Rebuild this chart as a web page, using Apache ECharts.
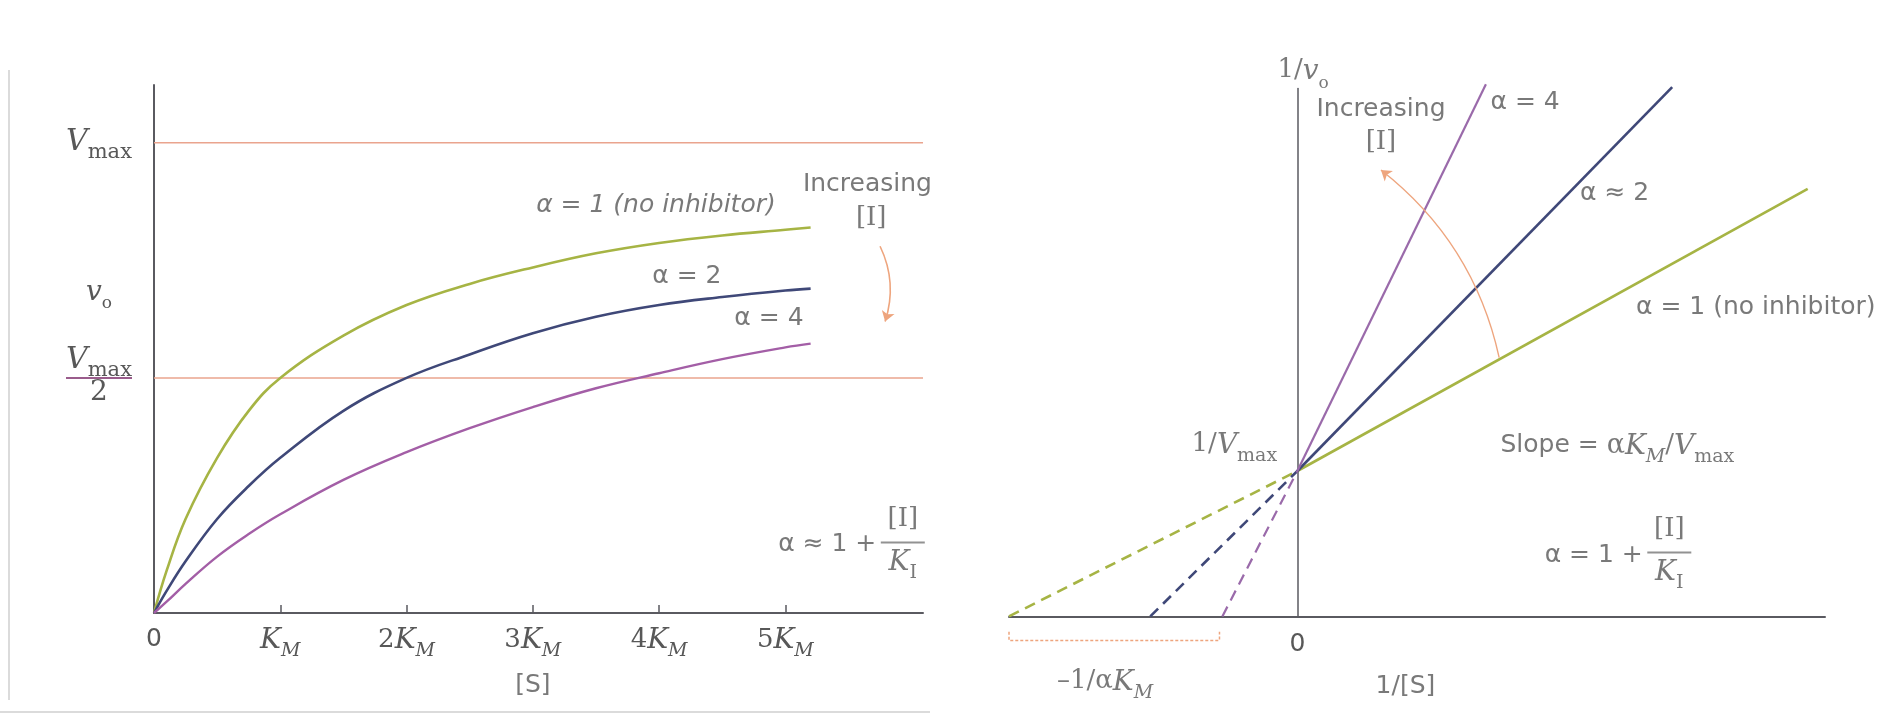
<!DOCTYPE html>
<html><head><meta charset="utf-8">
<script src="https://cdn.jsdelivr.net/npm/echarts@6/dist/echarts.min.js"></script>
<style>html,body{margin:0;padding:0;background:#fff}#c{width:1884px;height:722px}</style>
</head><body><div id="c"></div><script>
// ---------- data ----------
// Left: Michaelis-Menten plot, [S] in units of K_M, v0 in units of Vmax
const S_KM     = [0, 0.1, 0.25, 0.5, 0.75, 1, 1.5, 2, 2.5, 3, 3.5, 4, 4.5, 5, 5.2];
const v_alpha1 = [0, 0.09, 0.2, 0.33, 0.43, 0.5, 0.59, 0.655, 0.70, 0.735, 0.765, 0.787, 0.803, 0.815, 0.82];
const v_alpha2 = [0, 0.047, 0.11, 0.2, 0.27, 0.33, 0.43, 0.5, 0.55, 0.595, 0.63, 0.655, 0.672, 0.686, 0.69];
const v_alpha4 = [0, 0.024, 0.062, 0.12, 0.168, 0.21, 0.283, 0.342, 0.393, 0.438, 0.478, 0.51, 0.54, 0.565, 0.573];
const refLevels = [1, 0.5];          // Vmax and Vmax/2
const xTicksKM = [1, 2, 3, 4, 5];
const xLabelsKM = [0, 1, 2, 3, 4, 5];
const yLabelVals = [0.5, 0.68, 1];   // Vmax/2, v0 (axis title), Vmax

// Right: Lineweaver-Burk plot, 1/[S] in units of 1/K_M, 1/v0 in units of 1/Vmax
const lb1X = [0, 1.77],  lb1Y = [1, 2.94];
const lb2X = [0, 1.30],  lb2Y = [1, 3.64];
const lb4X = [0, 0.654], lb4Y = [1, 3.66];
const lb1DashX = [-1.0, 0],  lb1DashY = [0, 1];
const lb2DashX = [-0.51, 0], lb2DashY = [0, 1];
const lb4DashX = [-0.26, 0], lb4DashY = [0, 1];

// ---------- styles ----------
const TXT = '#585858';
const SANS = '"DejaVu Sans", "Liberation Sans", sans-serif';
const SERIF = '"DejaVu Serif", "Liberation Serif", serif';
const C1 = '#a6b444', C2 = '#3f4878', C4 = '#a35ea6', C4r = '#9a6aaa';
const ORANGE = '#eea57e', REF = '#eaa48e', AX = '#5a5a60';

const rich = {
  s:   {fontFamily: SANS, fontSize: 25, color: TXT, lineHeight: 30, verticalAlign: 'top'},
  si:  {fontFamily: SANS, fontSize: 25, fontStyle: 'italic', color: TXT, lineHeight: 30, verticalAlign: 'top'},
  zero:{fontFamily: SANS, fontSize: 25, color: TXT, lineHeight: 26, verticalAlign: 'top'},
  r:   {fontFamily: SERIF, fontSize: 26, color: TXT, lineHeight: 30, verticalAlign: 'top'},
  ra:  {fontFamily: SERIF, fontSize: 27, color: TXT, lineHeight: 30, verticalAlign: 'top'},
  it:  {fontFamily: SERIF, fontSize: 28, fontStyle: 'italic', color: TXT, lineHeight: 30, verticalAlign: 'top'},
  V:   {fontFamily: SERIF, fontSize: 30, fontStyle: 'italic', color: TXT, lineHeight: 32, verticalAlign: 'top'},
  vi:  {fontFamily: SERIF, fontSize: 28, fontStyle: 'italic', color: TXT, lineHeight: 30, verticalAlign: 'top'},
  sub: {fontFamily: SERIF, fontSize: 19, color: TXT, lineHeight: 20, padding: [15,0,0,0], verticalAlign: 'top'},
  subV:{fontFamily: SERIF, fontSize: 21, color: TXT, lineHeight: 22, padding: [15,0,0,0], verticalAlign: 'top'},
  subi:{fontFamily: SERIF, fontSize: 19, fontStyle: 'italic', color: TXT, lineHeight: 20, padding: [15,0,0,0], verticalAlign: 'top'},
  sub2:{fontFamily: SERIF, fontSize: 17, color: TXT, lineHeight: 18, padding: [17,0,0,0], verticalAlign: 'top'},
  gap: {fontSize: 1, lineHeight: 5, color: 'rgba(0,0,0,0)'},
  bar: {width: 44, height: 2, lineHeight: 2, backgroundColor: '#777', fontSize: 1, color: 'rgba(0,0,0,0)'},
  barp:{width: 66, height: 2, lineHeight: 2, backgroundColor: '#9a5c8c', fontSize: 1, color: 'rgba(0,0,0,0)'},
  two: {fontFamily: SERIF, fontSize: 28, color: TXT, lineHeight: 32, verticalAlign: 'top'}
};

// ---------- annotations (text anchored in data coordinates) ----------
const FRAC_I = '{r|[I]}\n{gap| }\n{bar| }\n{gap| }\n{it|K}{sub|I}';
const notes = [
  // grid 0
  [0, 3.975, 0.862, '{si|α = 1 (no inhibitor)}', 'center'],
  [0, 4.22, 0.71,  '{s|α = 2}', 'center'],
  [0, 4.87, 0.62,  '{s|α = 4}', 'center'],
  [0, 5.65, 0.905, '{s|Increasing}', 'center'],
  [0, 5.68, 0.835, '{r|[I]}', 'center'],
  [0, 5.72, 0.14,  '{s|α ≈ 1 +}', 'right'],
  [0, 5.93, 0.15,  FRAC_I, 'center'],
  [0, 3.0, -0.16,  '{s|[S]}', 'center'],
  // grid 1
  [1, 0.02, 3.74,  '{r|1/}{vi|v}{sub2|o}', 'center'],
  [1, 0.29, 3.47,  '{s|Increasing}', 'center'],
  [1, 0.29, 3.25,  '{r|[I]}', 'center'],
  [1, 0.79, 3.52,  '{s|α = 4}', 'center'],
  [1, 1.10, 2.89,  '{s|α ≈ 2}', 'center'],
  [1, 1.59, 2.11,  '{s|α = 1 (no inhibitor)}', 'center'],
  [1, -0.07, 1.17, '{r|1/}{it|V}{sub|max}', 'right'],
  [1, 1.11, 1.16,  '{s|Slope = }{ra|α}{it|K}{subi|M}{r|/}{it|V}{sub|max}', 'center'],
  [1, 1.198, 0.40, '{s|α = 1 +}', 'right'],
  [1, 1.29, 0.44,  FRAC_I, 'center'],
  [1, 0.375, -0.5, '{s|1/[S]}', 'center'],
  [1, -0.667, -0.46, '{r|–1/α}{it|K}{subi|M}', 'center']
];

function noteSeries(g) {
  return {
    type: 'scatter', xAxisIndex: g, yAxisIndex: g, symbolSize: 1, clip: false, silent: true,
    itemStyle: {color: 'rgba(0,0,0,0)'}, z: 10,
    data: notes.filter(n => n[0] === g).map(n => ({
      value: [n[1], n[2]],
      label: {show: true, position: 'inside', align: n[4], verticalAlign: 'middle', formatter: n[3], rich: rich}
    }))
  };
}
function pairs(xs, ys) { return xs.map((x, i) => [x, ys[i]]); }
function curve(g, xs, ys, color, width, dashed, smooth) {
  return {type: 'line', xAxisIndex: g, yAxisIndex: g, data: pairs(xs, ys), showSymbol: false, symbol: 'none',
    smooth: smooth || false, silent: true, clip: false, z: 5,
    lineStyle: {color: color, width: width, type: dashed ? [11, 7] : 'solid'}};
}

const XMAX0 = 6.09;
const chart = echarts.init(document.getElementById('c'));
const option = {
  animation: false,
  backgroundColor: '#ffffff',
  grid: [
    {left: 154, top: 85, width: 769, height: 528},
    {left: 1009, top: 88.6, width: 816, height: 527.8}
  ],
  xAxis: [
    {gridIndex: 0, type: 'value', min: 0, max: XMAX0, interval: 1, splitLine: {show: false},
     axisLine: {lineStyle: {color: AX, width: 2}},
     axisTick: {show: true, inside: true, length: 8, customValues: xTicksKM, lineStyle: {color: AX, width: 1.5}},
     axisLabel: {customValues: xLabelsKM, margin: 14, rich: rich,
       formatter: v => v === 0 ? '{zero|0}' : (v === 1 ? '{it|K}{subi|M}' : '{r|' + v + '}{it|K}{subi|M}')}},
    {gridIndex: 1, type: 'value', min: -1, max: 1.83, interval: 1, splitLine: {show: false},
     axisLine: {onZero: true, lineStyle: {color: AX, width: 2}},
     axisTick: {show: false},
     axisLabel: {customValues: [0], margin: 16, rich: rich, formatter: () => '{zero|0}'}}
  ],
  yAxis: [
    {gridIndex: 0, type: 'value', min: 0, max: 1.123, splitLine: {show: false},
     axisLine: {show: true, lineStyle: {color: AX, width: 2}},
     axisTick: {show: false},
     axisLabel: {customValues: yLabelVals, align: 'center', verticalAlign: 'middle', margin: 55, rich: rich,
       formatter: v => v === 1 ? '{V|V}{subV|max}' : (v === 0.5 ? '{V|V}{subV|max}\n{barp| }\n{two|2}' : '{vi|v}{sub2|o}')}},
    {gridIndex: 1, type: 'value', min: 0, max: 3.63, splitLine: {show: false},
     axisLine: {show: true, onZero: true, lineStyle: {color: AX, width: 1.5}},
     axisTick: {show: false}, axisLabel: {show: false}}
  ],
  series: [
    // reference levels Vmax, Vmax/2
    ...refLevels.map(l => ({type: 'line', xAxisIndex: 0, yAxisIndex: 0, data: [[0, l], [XMAX0, l]], symbol: 'none',
       silent: true, z: 2, lineStyle: {color: REF, width: 1.5}})),
    curve(0, S_KM, v_alpha1, C1, 2.6, false, 0.4),
    curve(0, S_KM, v_alpha2, C2, 2.6, false, 0.4),
    curve(0, S_KM, v_alpha4, C4, 2.4, false, 0.4),
    curve(1, lb1X, lb1Y, C1, 2.6),
    curve(1, lb2X, lb2Y, C2, 2.6),
    curve(1, lb4X, lb4Y, C4r, 2.2),
    curve(1, lb1DashX, lb1DashY, C1, 2.6, true),
    curve(1, lb2DashX, lb2DashY, C2, 2.6, true),
    curve(1, lb4DashX, lb4DashY, C4r, 2.2, true),
    // bracket under -1/alpha K_M
    {type: 'line', xAxisIndex: 1, yAxisIndex: 1, clip: false, symbol: 'none', silent: true,
     data: [[-1.0, -0.105], [-1.0, -0.165], [-0.27, -0.165], [-0.27, -0.105]],
     lineStyle: {color: ORANGE, width: 1.5, type: [3, 2]}},
    // "Increasing [I]" arrows
    {type: 'lines', coordinateSystem: 'cartesian2d', xAxisIndex: 0, yAxisIndex: 0, silent: true, z: 6,
     symbol: ['none', 'arrow'], symbolSize: 10,
     lineStyle: {color: ORANGE, width: 1.6, curveness: 0.2, opacity: 1},
     data: [{coords: [[5.75, 0.78], [5.79, 0.62]]}]},
    {type: 'lines', coordinateSystem: 'cartesian2d', xAxisIndex: 1, yAxisIndex: 1, silent: true, z: 6,
     symbol: ['none', 'arrow'], symbolSize: 10,
     lineStyle: {color: ORANGE, width: 1.4, curveness: -0.18, opacity: 1},
     data: [{coords: [[0.70, 1.78], [0.29, 3.07]]}]},
    noteSeries(0),
    noteSeries(1)
  ],
  graphic: [
    {type: 'line', shape: {x1: 9, y1: 70, x2: 9, y2: 700}, style: {stroke: '#cfcfcf', lineWidth: 1.5}, silent: true},
    {type: 'line', shape: {x1: 0, y1: 712, x2: 930, y2: 712}, style: {stroke: '#cfcfcf', lineWidth: 1.5}, silent: true}
  ]
};
chart.setOption(option);
</script></body></html>
